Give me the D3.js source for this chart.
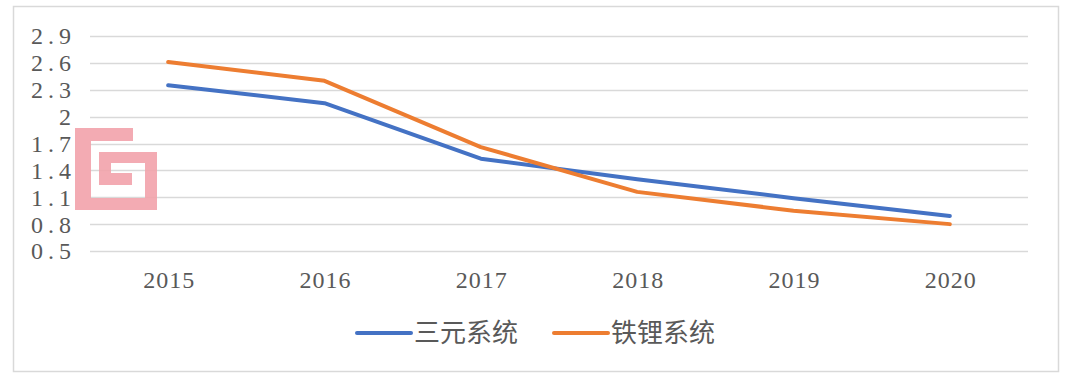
<!DOCTYPE html>
<html>
<head>
<meta charset="utf-8">
<script src="https://cdn.jsdelivr.net/npm/d3@7"></script>
<style>
  body { margin: 0; background: #fff; }
  svg { display: block; }
</style>
</head>
<body>
<div id="chart"></div>
<script>
// Chart data
const years = ["2015", "2016", "2017", "2018", "2019", "2020"];
const ternary = [2.35, 2.15, 1.53, 1.30, 1.09, 0.89];   // 三元系统
const lfp = [2.61, 2.40, 1.66, 1.16, 0.95, 0.80];       // 铁锂系统
const yTicks = [0.5, 0.8, 1.1, 1.4, 1.7, 2, 2.3, 2.6, 2.9];
const seriesNames = ["三元系统", "铁锂系统"];

const width = 1080;
const height = 386;

// Colours
const colorBlue = "#4472c4";
const colorOrange = "#ed7d31";
const gridColor = "#d9d9d9";
const textColor = "#595959";

const svg = d3.select("#chart")
  .append("svg")
  .attr("width", width)
  .attr("height", height);

// outer frame of the chart
svg.append("rect")
  .attr("x", 13.5)
  .attr("y", 6.5)
  .attr("width", 1045)
  .attr("height", 365)
  .attr("fill", "#fff")
  .attr("stroke", gridColor)
  .attr("stroke-width", 1.5);

// scales
const x = d3.scalePoint()
  .domain(years)
  .range([90, 1028])
  .padding(0.5);

const y = d3.scaleLinear()
  .domain([0.5, 2.9])
  .range([251, 36]);

// horizontal gridlines
svg.append("g")
  .selectAll("line")
  .data(yTicks)
  .join("line")
  .attr("x1", 90)
  .attr("x2", 1028)
  .attr("y1", d => Math.round(y(d)) + 0.5)
  .attr("y2", d => Math.round(y(d)) + 0.5)
  .attr("stroke", gridColor)
  .attr("stroke-width", 1.5);

// watermark logo (pink spiral "G")
const logo = svg.append("g").attr("fill", "#f2a3ab").attr("opacity", 0.9);
[
  [75, 128, 58, 13],   // top bar
  [75, 128, 16, 82],   // left bar
  [75, 198, 82, 12],   // bottom bar
  [145, 152, 12, 58],  // right bar
  [99, 152, 58, 11],   // inner top
  [99, 152, 12, 33],   // inner left
  [99, 173, 33, 12]    // inner tongue
].forEach(r => {
  logo.append("rect")
    .attr("x", r[0]).attr("y", r[1])
    .attr("width", r[2]).attr("height", r[3]);
});

// y axis labels
svg.append("g")
  .selectAll("text")
  .data(yTicks)
  .join("text")
  .attr("x", 76)
  .attr("y", d => y(d))
  .attr("dy", "0.35em")
  .attr("text-anchor", "end")
  .style("font-family", "'Liberation Serif', 'DejaVu Serif', serif")
  .style("font-size", "24px")
  .style("letter-spacing", "5px")
  .style("fill", textColor)
  .text(d => d);

// x axis labels
svg.append("g")
  .selectAll("text")
  .data(years)
  .join("text")
  .attr("x", d => x(d) + 1)
  .attr("y", 280)
  .attr("dy", "0.35em")
  .attr("text-anchor", "middle")
  .style("font-family", "'Liberation Serif', 'DejaVu Serif', serif")
  .style("font-size", "24px")
  .style("letter-spacing", "1px")
  .style("fill", textColor)
  .text(d => d);

// lines
const line = d3.line()
  .x((d, i) => x(years[i]))
  .y(d => y(d));

[[ternary, colorBlue], [lfp, colorOrange]].forEach(s => {
  svg.append("path")
    .datum(s[0])
    .attr("d", line)
    .attr("fill", "none")
    .attr("stroke", s[1])
    .attr("stroke-width", 4)
    .attr("stroke-linejoin", "round")
    .attr("stroke-linecap", "round");
});

// legend
const legendItems = [
  { name: seriesNames[0], color: colorBlue, x: 356 },
  { name: seriesNames[1], color: colorOrange, x: 553 }
];

const legend = svg.append("g")
  .selectAll("g")
  .data(legendItems)
  .join("g")
  .attr("transform", d => `translate(${d.x},333)`);

legend.append("line")
  .attr("x1", 1)
  .attr("x2", 55)
  .attr("stroke", d => d.color)
  .attr("stroke-width", 4)
  .attr("stroke-linecap", "round");

legend.append("text")
  .attr("x", 58)
  .attr("dy", "0.36em")
  .style("font-family", "'Noto Sans CJK SC', sans-serif")
  .style("font-size", "26px")
  .style("fill", textColor)
  .text(d => d.name);
</script>
</body>
</html>
